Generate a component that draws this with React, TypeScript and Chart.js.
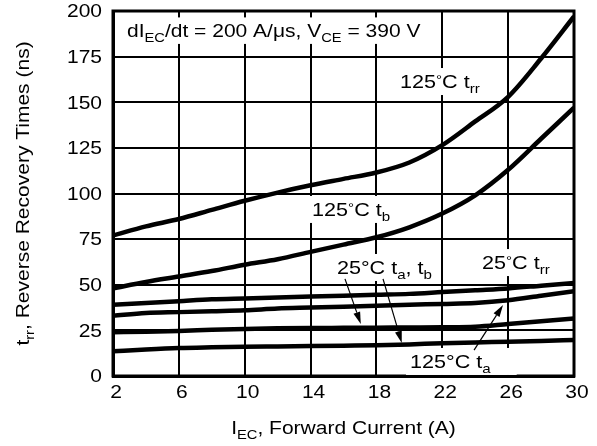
import { useEffect, useRef } from "react"
import { Chart, registerables } from "chart.js"

Chart.register(...registerables)

// Forward current (A)
const currents = [2, 4, 6, 8, 10, 12, 14, 16, 18, 20, 22, 24, 26, 28, 30]

// Recovery times (ns)
const trr125 = [77, 82, 86, 91, 96, 100.5, 104.5, 108, 111.5, 117, 126.5, 139.5, 153, 174, 197]
const tb125 = [48, 51.5, 54.5, 57.5, 61, 64, 68, 72, 76, 81.5, 89, 99, 113, 130, 147]
const trr25 = [39, 40, 41, 42, 42.5, 43, 43.5, 44, 44.5, 45, 46, 47, 48, 49.5, 51]
const ta125 = [33, 34.5, 35, 35.5, 36, 37, 37.5, 38, 38.5, 39, 39.5, 40, 41.5, 44, 46.5]
const ta25 = [24, 24.3, 24.7, 25.3, 25.8, 26.1, 26.3, 26.4, 26.5, 26.6, 26.7, 27, 28.5, 30, 31.5]
const tb25 = [13.5, 14.5, 15.3, 15.7, 16, 16.2, 16.4, 16.6, 16.8, 17.3, 18, 18.4, 18.8, 19.2, 19.7]

const xTicks = [2, 6, 10, 14, 18, 22, 26, 30]
const yTicks = [0, 25, 50, 75, 100, 125, 150, 175, 200]

const FONT = "'Liberation Sans', Arial, Helvetica, sans-serif"
const STRETCH = 1.2

type Seg = { t: string; sub?: boolean; sup?: boolean }

const xTitle: Seg[] = [{ t: "I" }, { t: "EC", sub: true }, { t: ", Forward Current (A)" }]
const yTitle: Seg[] = [{ t: "t" }, { t: "rr", sub: true }, { t: ", Reverse Recovery Times (ns)" }]

// labels: position in data units (left edge, baseline)
const labels: { segs: Seg[]; x: number; y: number; size: number; extraRight?: number }[] = [
  {
    segs: [
      { t: "dI" }, { t: "EC", sub: true }, { t: "/dt = 200 A/\u03bcs, V" }, { t: "CE", sub: true }, { t: " = 390 V" },
    ],
    x: 2.85, y: 185.8, size: 17.5,
  },
  { segs: [{ t: "125" }, { t: "\u00b0", sup: true }, { t: "C t" }, { t: "rr", sub: true }], x: 19.43, y: 157.8, size: 18 },
  { segs: [{ t: "125" }, { t: "\u00b0", sup: true }, { t: "C t" }, { t: "b", sub: true }], x: 14.09, y: 87.7, size: 18 },
  { segs: [{ t: "25\u00b0C t" }, { t: "a", sub: true }, { t: ", t" }, { t: "b", sub: true }], x: 15.6, y: 55.9, size: 18 },
  { segs: [{ t: "25" }, { t: "\u00b0", sup: true }, { t: "C t" }, { t: "rr", sub: true }], x: 24.41, y: 58.6, size: 18 },
  { segs: [{ t: "125\u00b0C t" }, { t: "a", sub: true }], x: 20.04, y: 4.4, size: 18, extraRight: 22 },
]

// arrows: [fromX, fromY, tipX, tipY] in data units
const arrows = [
  [16.09, 53.2, 17.05, 28.5],
  [18.4, 53.2, 19.54, 18.1],
  [23.93, 14.2, 25.69, 38.9],
]

function segFont(seg: Seg, size: number) {
  const s = seg.sub || seg.sup ? size * 0.7 : size
  return `${s}px ${FONT}`
}

function richWidth(ctx: CanvasRenderingContext2D, segs: Seg[], size: number) {
  let w = 0
  for (const seg of segs) {
    ctx.font = segFont(seg, size)
    w += ctx.measureText(seg.t).width
  }
  return w
}

function drawRich(
  ctx: CanvasRenderingContext2D,
  segs: Seg[],
  x: number,
  y: number,
  size: number,
  align: "left" | "center" | "right",
  baseline: CanvasTextBaseline = "alphabetic",
  rotate = 0
) {
  ctx.save()
  ctx.translate(x, y)
  if (rotate) ctx.rotate(rotate)
  ctx.scale(STRETCH, 1)
  ctx.fillStyle = "#000"
  ctx.textAlign = "left"
  ctx.textBaseline = baseline
  const w = richWidth(ctx, segs, size)
  let cx = align === "left" ? 0 : align === "center" ? -w / 2 : -w
  for (const seg of segs) {
    ctx.font = segFont(seg, size)
    const dy = seg.sub ? size * 0.28 : seg.sup ? -size * 0.22 : 0
    ctx.fillText(seg.t, cx, dy)
    cx += ctx.measureText(seg.t).width
  }
  ctx.restore()
}

const overlayPlugin = {
  id: "overlay",
  beforeDatasetsDraw(chart: Chart) {
    const { ctx, chartArea, scales } = chart
    const xs = scales.x
    const ys = scales.y
    ctx.save()
    ctx.strokeStyle = "#000"
    ctx.lineWidth = 3
    ctx.strokeRect(chartArea.left, chartArea.top, chartArea.right - chartArea.left, chartArea.bottom - chartArea.top)
    // white boxes behind the labels
    ctx.fillStyle = "#fff"
    for (const lb of labels) {
      const w = richWidth(ctx, lb.segs, lb.size) * STRETCH
      const px = xs.getPixelForValue(lb.x)
      const py = ys.getPixelForValue(lb.y)
      ctx.fillRect(px - 4, py - lb.size - 2, w + 8 + (lb.extraRight || 0), lb.size + 9)
    }
    ctx.restore()
  },
  afterDatasetsDraw(chart: Chart) {
    const { ctx, chartArea, scales } = chart
    const xs = scales.x
    const ys = scales.y

    for (const v of yTicks) {
      drawRich(ctx, [{ t: String(v) }], chartArea.left - 11, ys.getPixelForValue(v) + 1.5, 17.5, "right", "middle")
    }
    for (const v of xTicks) {
      drawRich(ctx, [{ t: String(v) }], xs.getPixelForValue(v) + 3, chartArea.bottom + 17, 17.5, "center", "middle")
    }
    drawRich(ctx, xTitle, (chartArea.left + chartArea.right) / 2, chartArea.bottom + 58, 17.5, "center")
    drawRich(ctx, yTitle, 29, (chartArea.top + chartArea.bottom) / 2, 17.5, "center", "alphabetic", -Math.PI / 2)

    for (const lb of labels) {
      drawRich(ctx, lb.segs, xs.getPixelForValue(lb.x), ys.getPixelForValue(lb.y), lb.size, "left")
    }

    ctx.save()
    ctx.strokeStyle = "#000"
    ctx.fillStyle = "#000"
    ctx.lineWidth = 1.2
    for (const [fx, fy, tx, ty] of arrows) {
      const x1 = xs.getPixelForValue(fx)
      const y1 = ys.getPixelForValue(fy)
      const x2 = xs.getPixelForValue(tx)
      const y2 = ys.getPixelForValue(ty)
      const ang = Math.atan2(y2 - y1, x2 - x1)
      const hl = 12
      const hw = 3.5
      const bx = x2 - hl * Math.cos(ang)
      const by = y2 - hl * Math.sin(ang)
      ctx.beginPath()
      ctx.moveTo(x1, y1)
      ctx.lineTo(bx, by)
      ctx.stroke()
      ctx.beginPath()
      ctx.moveTo(x2, y2)
      ctx.lineTo(bx + hw * Math.sin(ang), by - hw * Math.cos(ang))
      ctx.lineTo(bx - hw * Math.sin(ang), by + hw * Math.cos(ang))
      ctx.closePath()
      ctx.fill()
    }
    ctx.restore()
  },
}

export default function App() {
  const chartRef = useRef<HTMLCanvasElement>(null)
  const chartInstance = useRef<Chart | null>(null)

  useEffect(() => {
    document.body.style.margin = "0"
    if (!chartRef.current) return
    if (chartInstance.current) chartInstance.current.destroy()
    const ctx = chartRef.current.getContext("2d")
    if (!ctx) return

    const series = [
      { label: "125°C trr", data: trr125 },
      { label: "125°C tb", data: tb125 },
      { label: "25°C trr", data: trr25 },
      { label: "125°C ta", data: ta125 },
      { label: "25°C ta", data: ta25 },
      { label: "25°C tb", data: tb25 },
    ]

    chartInstance.current = new Chart(ctx, {
      type: "line",
      data: {
        datasets: series.map((s) => ({
          label: s.label,
          data: currents.map((x, i) => ({ x, y: s.data[i] })),
          borderColor: "#000",
          borderWidth: 4.5,
          pointRadius: 0,
          cubicInterpolationMode: "monotone" as const,
          fill: false,
        })),
      },
      options: {
        responsive: false,
        animation: false,
        layout: { padding: { top: 11, right: 23, left: 0, bottom: 0 } },
        plugins: { legend: { display: false }, tooltip: { enabled: false } },
        scales: {
          x: {
            type: "linear",
            min: 2,
            max: 30,
            ticks: { display: false, stepSize: 4 },
            grid: { color: "#000", lineWidth: 2, drawTicks: false },
            border: { color: "#000", width: 3 },
            afterFit: (s: any) => {
              s.height = 70
            },
          },
          y: {
            type: "linear",
            min: 0,
            max: 200,
            ticks: { display: false, stepSize: 25 },
            grid: { color: "#000", lineWidth: 2, drawTicks: false },
            border: { color: "#000", width: 3 },
            afterFit: (s: any) => {
              s.width = 113
            },
          },
        },
      },
      plugins: [overlayPlugin],
    })

    return () => {
      if (chartInstance.current) {
        chartInstance.current.destroy()
        chartInstance.current = null
      }
    }
  }, [])

  return (
    <div style={{ width: 597, height: 446, background: "#fff" }}>
      <canvas ref={chartRef} width={597} height={446} />
    </div>
  )
}
